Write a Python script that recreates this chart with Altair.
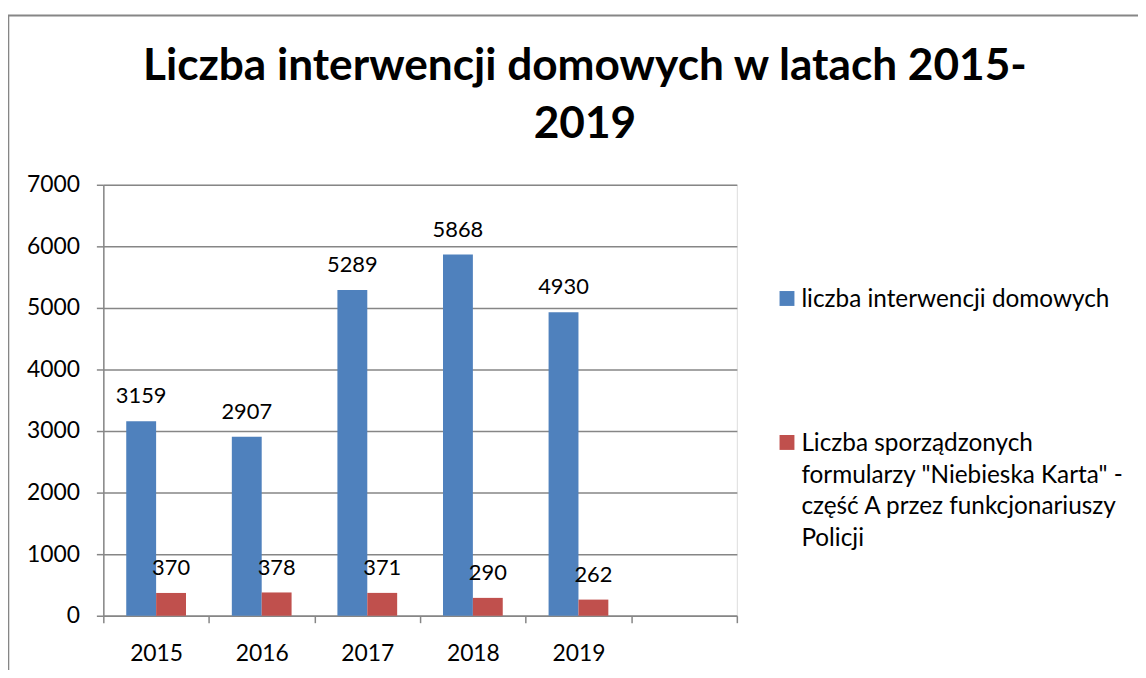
import altair as alt
import pandas as pd

years = ["2015", "2016", "2017", "2018", "2019"]
interwencje = [3159, 2907, 5289, 5868, 4930]
niebieska = [370, 378, 371, 290, 262]
series = [
    "liczba interwencji domowych",
    'Liczba sporządzonych|formularzy "Niebieska Karta" -|część A przez funkcjonariuszy|Policji',
]
x_domain = years + [" "]
y_ticks = [0, 1000, 2000, 3000, 4000, 5000, 6000, 7000]
colors = ["#4F81BD", "#C0504D"]
title_text = "Liczba interwencji domowych w latach 2015-|2019"

rows = []
for i, y in enumerate(years):
    rows.append({"rok": y, "seria": series[0], "wartosc": interwencje[i]})
    rows.append({"rok": y, "seria": series[1], "wartosc": niebieska[i]})
df = pd.DataFrame(rows)

FONT = "Lato"
GRAY = "#868686"
W, H = 638, 434

x = alt.X(
    "rok:N",
    scale=alt.Scale(domain=x_domain, paddingInner=0, paddingOuter=0),
    axis=alt.Axis(
        title=None, labelFont=FONT, labelFontSize=23, labelColor="black",
        labelAngle=0, tickBand="extent", tickSize=7, tickColor=GRAY,
        tickWidth=1.5, domainColor=GRAY, domainWidth=1.5, labelPadding=20,
    ),
)
xo = alt.XOffset(
    "seria:N", scale=alt.Scale(domain=series, paddingInner=0, paddingOuter=0.767)
)
y = alt.Y(
    "wartosc:Q",
    scale=alt.Scale(domain=[0, 7000], nice=False),
    axis=alt.Axis(
        title=None, values=y_ticks, format="d", labelFont=FONT, labelFontSize=23,
        labelColor="black", tickSize=7, tickColor=GRAY, tickWidth=1.5,
        domainColor=GRAY, domainWidth=1.5, grid=True, gridColor=GRAY,
        gridWidth=1.5, labelPadding=17,
    ),
)
color = alt.Color("seria:N", scale=alt.Scale(domain=series, range=colors), legend=None)

base = alt.Chart(df)
bars = base.mark_bar().encode(x=x, xOffset=xo, y=y, color=color)
labels = base.mark_text(
    font=FONT, fontSize=22, color="black", baseline="alphabetic", dy=-18
).encode(x=x, xOffset=xo, y=y, text=alt.Text("wartosc:Q", format="d"))

one = pd.DataFrame({"k": [0]})
frame = alt.Chart(one).mark_rect(fill=None, stroke=GRAY, strokeWidth=2).encode(
    x=alt.value(-95.7), x2=alt.value(1080), y=alt.value(-170.4), y2=alt.value(540)
)

title = alt.Chart(one).mark_text(
    text=title_text, lineBreak="|", lineHeight=59, font=FONT, fontSize=44.5,
    fontWeight="bold", align="center", baseline="alphabetic", color="black",
).encode(x=alt.value(485), y=alt.value(-106))

LEG_X = 681
LEG_Y = [107, 252]
legend_layers = []
for i, s in enumerate(series):
    legend_layers.append(
        alt.Chart(one).mark_square(size=225, color=colors[i], opacity=1).encode(
            x=alt.value(LEG_X + 7.5), y=alt.value(LEG_Y[i] + 7.5)
        )
    )
    legend_layers.append(
        alt.Chart(one).mark_text(
            text=s, lineBreak="|", lineHeight=32, font=FONT, fontSize=24.5,
            align="left", baseline="alphabetic", color="black",
        ).encode(x=alt.value(LEG_X + 22), y=alt.value(LEG_Y[i] + 16))
    )

chart = alt.layer(frame, bars, labels, title, *legend_layers).properties(
    width=W,
    height=H,
    autosize=alt.AutoSizeParams(type="none"),
    padding={"left": 96, "top": 175.7, "right": 404, "bottom": 52},
).configure_view(stroke=None).configure(background="white")

chart.save("out.html", embed_options={"renderer": "svg", "actions": False})
